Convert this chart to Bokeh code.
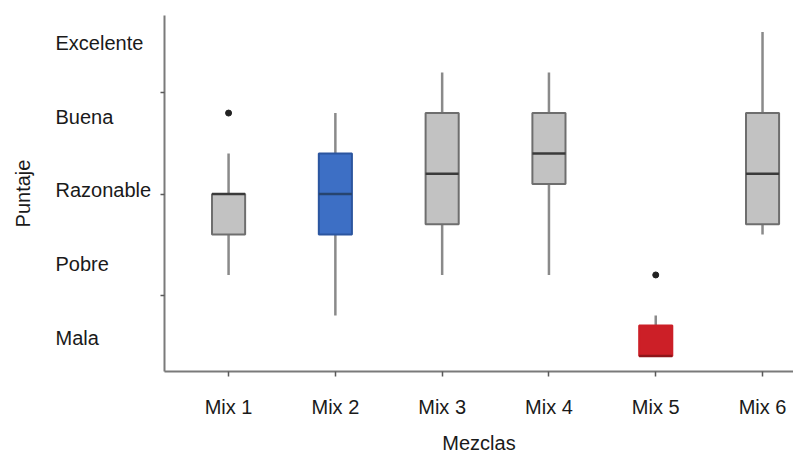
import math
from bokeh.plotting import figure
from bokeh.layouts import row
from bokeh.models import Range1d, FixedTicker, ColumnDataSource
from bokeh.core.properties import value
from bokeh.embed import file_html
from bokeh.resources import INLINE

# ---- data ----
mixes = ["Mix 1", "Mix 2", "Mix 3", "Mix 4", "Mix 5", "Mix 6"]
whisker_low = [6, 4, 6, 6, 2, 8]
q1 = [8, 8, 8.5, 10.5, 2, 8.5]
median = [10, 10, 11, 12, 2, 11]
q3 = [10, 12, 14, 14, 3.5, 14]
whisker_high = [12, 14, 16, 16, 4, 18]
outlier_mix = ["Mix 1", "Mix 5"]
outlier_val = [14, 6]
ratings = ["Mala", "Pobre", "Razonable", "Buena", "Excelente"]
rating_at = [2.9, 6.55, 10.2, 13.8, 17.45]
tick_vals = [5, 10, 15]

# ---- styles ----
box_fill = ["#c2c2c2", "#3d6fc5", "#c2c2c2", "#c2c2c2", "#cc1f27", "#c2c2c2"]
box_line = ["#6e6e6e", "#2b559f", "#6e6e6e", "#6e6e6e", "#cc1f27", "#6e6e6e"]
med_line = ["#3a3a3a", "#27446f", "#3a3a3a", "#3a3a3a", "#8e1519", "#3a3a3a"]
FONT = "Liberation Sans"
FS = "20px"
TXT = "#1a1a1a"
BOXW = 0.31
LEFT_W = 157

y_range = Range1d(1.23, 18.82)

xs = [i + 1 for i in range(len(mixes))]
src = ColumnDataSource(dict(
    x=xs, lo=whisker_low, q1=q1, med=median, q3=q3, hi=whisker_high,
    x0=[x - BOXW / 2 for x in xs], x1=[x + BOXW / 2 for x in xs],
    fill=box_fill, line=box_line, mline=med_line,
))
osrc = ColumnDataSource(dict(x=[mixes.index(m) + 1 for m in outlier_mix], y=outlier_val))

# ---- left panel: rating names and the y title ----
lp = figure(width=LEFT_W, height=456, output_backend="svg", toolbar_location=None,
            x_range=Range1d(0, LEFT_W), y_range=y_range,
            x_axis_type=None, y_axis_type=None,
            min_border_left=0, min_border_right=0, min_border_top=15,
            min_border_bottom=84)
lp.outline_line_color = None
lp.xgrid.visible = False
lp.ygrid.visible = False
lsrc = ColumnDataSource(dict(x=[55] * len(ratings), y=rating_at, t=ratings))
lp.text(x="x", y="y", text="t", source=lsrc, text_align="left", text_baseline="middle",
        text_font=value(FONT), text_font_size=value(FS), text_color=TXT)
lp.text(x=[22], y=[(y_range.start + y_range.end) / 2], text=["Puntaje"], angle=math.pi / 2,
        text_align="center", text_baseline="middle",
        text_font=value(FONT), text_font_size=value(FS), text_color=TXT)

# ---- main plot ----
p = figure(width=793 - LEFT_W, height=456, output_backend="svg", toolbar_location=None,
           x_range=Range1d(0.4, 6.29), y_range=y_range,
           min_border_left=164 - LEFT_W, min_border_right=0, min_border_top=15,
           min_border_bottom=84)
p.outline_line_color = None
p.xgrid.visible = False
p.ygrid.visible = False

p.segment(x0="x", y0="lo", x1="x", y1="hi", source=src, line_color="#8a8a8a", line_width=2.5)
p.vbar(x="x", width=BOXW, bottom="q1", top="q3", source=src,
       fill_color="fill", line_color="line", line_width=2)
p.segment(x0="x0", y0="med", x1="x1", y1="med", source=src, line_color="mline", line_width=2.5)
p.scatter(x="x", y="y", source=osrc, size=6, color="#222222")

# x axis
xa = p.xaxis[0]
xa.ticker = FixedTicker(ticks=xs)
xa.major_label_overrides = {x: m for x, m in zip(xs, mixes)}
xa.axis_label = "Mezclas"
xa.axis_label_text_font = FONT
xa.axis_label_text_font_style = "normal"
xa.axis_label_text_font_size = FS
xa.axis_label_text_color = TXT
xa.axis_label_standoff = 11
xa.major_label_text_font = FONT
xa.major_label_text_font_size = FS
xa.major_label_text_color = TXT
xa.major_label_standoff = 19
xa.axis_line_color = "#7a7a7a"
xa.axis_line_width = 2
xa.major_tick_in = 0
xa.major_tick_out = 5
xa.major_tick_line_color = "#5a5a5a"
xa.major_tick_line_width = 1.5
xa.minor_tick_line_color = None

# y axis: only the three unlabeled ticks
ya = p.yaxis[0]
ya.ticker = FixedTicker(ticks=[], minor_ticks=tick_vals)
ya.major_label_standoff = 0
ya.axis_line_color = "#7a7a7a"
ya.axis_line_width = 2
ya.major_tick_line_color = None
ya.minor_tick_in = 0
ya.minor_tick_out = 4
ya.minor_tick_line_color = "#5a5a5a"
ya.minor_tick_line_width = 1.5

layout = row(lp, p, spacing=0)
open("out.html", "w").write(file_html(layout, INLINE))
